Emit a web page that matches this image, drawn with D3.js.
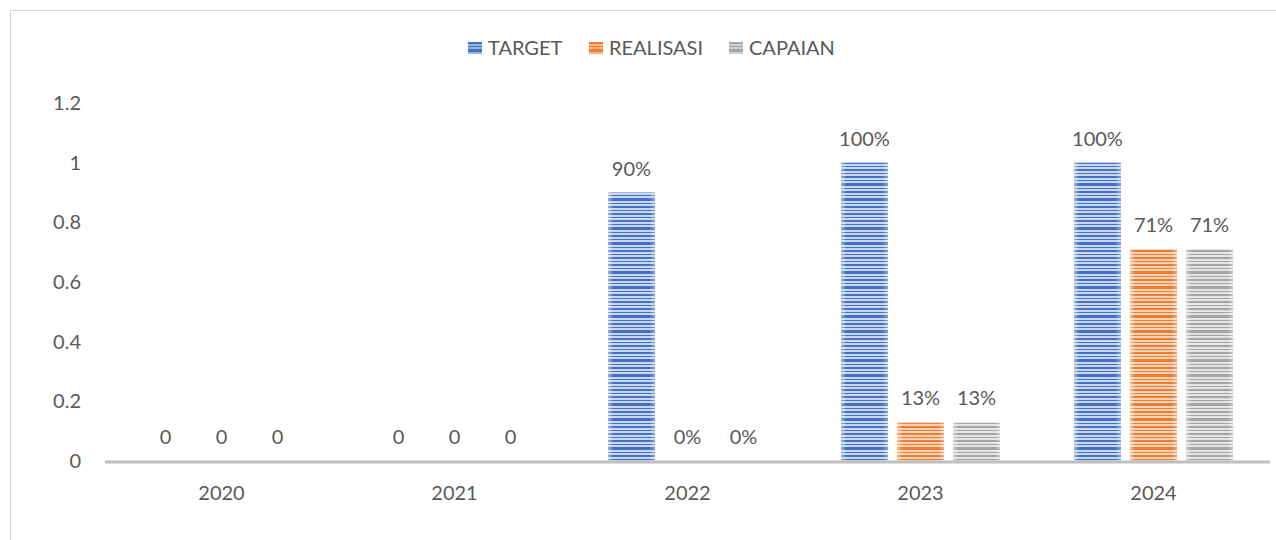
<!DOCTYPE html>
<html>
<head>
<meta charset="utf-8">
<script src="https://cdn.jsdelivr.net/npm/d3@7"></script>
<style>
  body { margin: 0; background: #fff; }
  svg text { font-family: Lato, "Open Sans", sans-serif; fill: #595959; }
</style>
</head>
<body>
<svg id="chart" width="1276" height="540"></svg>
<script>
const years = ['2020', '2021', '2022', '2023', '2024'];
const seriesNames = ['TARGET', 'REALISASI', 'CAPAIAN'];
const target = [0, 0, 0.9, 1, 1];
const realisasi = [0, 0, 0, 0.13, 0.71];
const capaian = [0, 0, 0, 0.13, 0.71];
const targetLabels = ['0', '0', '90%', '100%', '100%'];
const realisasiLabels = ['0', '0', '0%', '13%', '71%'];
const capaianLabels = ['0', '0', '0%', '13%', '71%'];
const yTicks = [0, 0.2, 0.4, 0.6, 0.8, 1, 1.2];

const colors = {
  TARGET: { dark: '#4472c4', light: '#c9d6ef' },
  REALISASI: { dark: '#ed7d31', light: '#f9d3b8' },
  CAPAIAN: { dark: '#a5a5a5', light: '#e4e4e4' }
};

const values = [target, realisasi, capaian];
const labels = [targetLabels, realisasiLabels, capaianLabels];
const fontSize = 20;

const svg = d3.select('#chart');

// outer frame
svg.append('path')
  .attr('d', 'M10.5,540 V10.5 H1276')
  .attr('fill', 'none')
  .attr('stroke', '#d9d9d9')
  .attr('stroke-width', 1);

const x0 = d3.scaleBand().domain(years).range([105, 1270]);
const x1 = d3.scaleBand().domain(seriesNames).range([0, x0.bandwidth()])
  .paddingInner(0.16).paddingOuter(0.66);
const y = d3.scaleLinear().domain([0, 1.2]).range([461, 103]);

// stripe patterns
const stripes = [[0, 2], [4, 1], [7, 3], [12, 1], [15, 2], [19, 1], [22, 3], [27, 1], [30, 2], [34, 1], [37, 2], [41, 1]];
const defs = svg.append('defs');
seriesNames.forEach((s, i) => {
  const p = defs.append('pattern')
    .attr('id', 'pat' + i)
    .attr('patternUnits', 'userSpaceOnUse')
    .attr('width', 10).attr('height', 44);
  p.append('rect').attr('width', 10).attr('height', 44).attr('fill', colors[s].light);
  stripes.forEach(([sy, h]) => {
    p.append('rect').attr('y', sy).attr('width', 10).attr('height', h).attr('fill', colors[s].dark);
  });
});
const g = defs.append('linearGradient').attr('id', 'sheen');
g.append('stop').attr('offset', '0%').attr('stop-color', '#fff').attr('stop-opacity', 0.45);
g.append('stop').attr('offset', '12%').attr('stop-color', '#fff').attr('stop-opacity', 0);
g.append('stop').attr('offset', '88%').attr('stop-color', '#fff').attr('stop-opacity', 0);
g.append('stop').attr('offset', '100%').attr('stop-color', '#fff').attr('stop-opacity', 0.35);

// y axis labels
svg.append('g').selectAll('text')
  .data(yTicks)
  .enter().append('text')
  .attr('x', 81)
  .attr('y', d => y(d))
  .attr('dy', '0.35em')
  .attr('text-anchor', 'end')
  .attr('font-size', fontSize)
  .text(d => d);

// bars
const groups = svg.append('g').selectAll('g')
  .data(years)
  .enter().append('g')
  .attr('transform', d => `translate(${x0(d)},0)`);

seriesNames.forEach((s, si) => {
  const val = d => values[si][years.indexOf(d)];
  const bars = groups.filter(d => val(d) > 0);
  bars.append('rect')
    .attr('x', x1(s))
    .attr('y', d => y(val(d)))
    .attr('width', x1.bandwidth())
    .attr('height', d => y(0) - y(val(d)))
    .attr('fill', `url(#pat${si})`);
  bars.append('rect')
    .attr('x', x1(s))
    .attr('y', d => y(val(d)))
    .attr('width', x1.bandwidth())
    .attr('height', d => y(0) - y(val(d)))
    .attr('fill', 'url(#sheen)');

  groups.append('text')
    .attr('x', x1(s) + x1.bandwidth() / 2)
    .attr('y', d => y(val(d)) - 17)
    .attr('text-anchor', 'middle')
    .attr('font-size', fontSize)
    .text(d => labels[si][years.indexOf(d)]);
});

// baseline
svg.append('line')
  .attr('x1', 105).attr('x2', 1270)
  .attr('y1', y(0) + 1).attr('y2', y(0) + 1)
  .attr('stroke', '#bfbfbf')
  .attr('stroke-width', 3);

// x labels
svg.append('g').selectAll('text')
  .data(years)
  .enter().append('text')
  .attr('x', d => x0(d) + x0.bandwidth() / 2)
  .attr('y', 500)
  .attr('text-anchor', 'middle')
  .attr('font-size', fontSize)
  .text(d => d);

// legend
const legendX = [468, 589, 729];
const legend = svg.append('g').selectAll('g')
  .data(seriesNames)
  .enter().append('g')
  .attr('transform', (d, i) => `translate(${legendX[i]},42)`);
legend.append('rect')
  .attr('width', 14).attr('height', 12)
  .attr('fill', (d, i) => `url(#pat${i})`);
legend.append('rect')
  .attr('width', 14).attr('height', 12)
  .attr('fill', (d, i) => colors[d].dark)
  .attr('opacity', 0.35);
legend.append('text')
  .attr('x', 20).attr('y', 6)
  .attr('dy', '0.35em')
  .attr('font-size', fontSize)
  .text(d => d);
</script>
</body>
</html>
